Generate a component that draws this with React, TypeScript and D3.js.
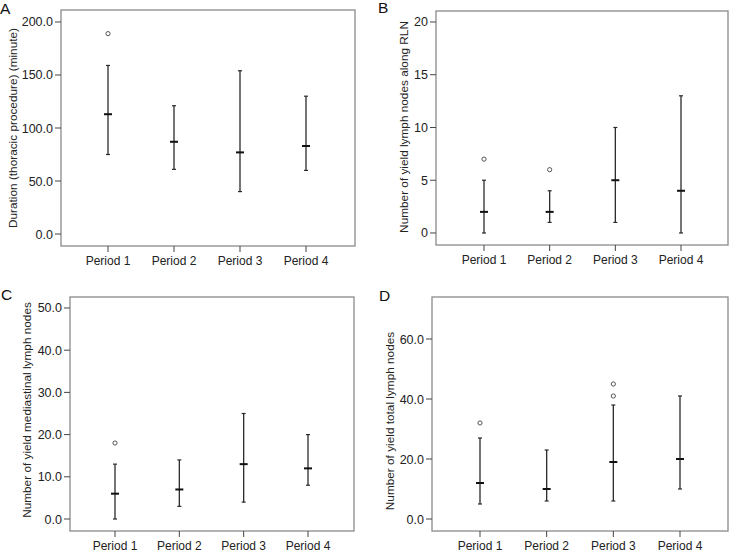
import React from "react";
import * as d3 from "d3";

const periods = ["Period 1", "Period 2", "Period 3", "Period 4"];

// Panel A: duration
const aLow = [75, 61, 40, 60];
const aMed = [113, 87, 77, 83];
const aHigh = [159, 121, 154, 130];
const aOut = [[189], [], [], []];
const aTicks = [0, 50, 100, 150, 200];

// Panel B: RLN nodes
const bLow = [0, 1, 1, 0];
const bMed = [2, 2, 5, 4];
const bHigh = [5, 4, 10, 13];
const bOut = [[7], [6], [], []];
const bTicks = [0, 5, 10, 15, 20];

// Panel C: mediastinal nodes
const cLow = [0, 3, 4, 8];
const cMed = [6, 7, 13, 12];
const cHigh = [13, 14, 25, 20];
const cOut = [[18], [], [], []];
const cTicks = [0, 10, 20, 30, 40, 50];

// Panel D: total nodes
const dLow = [5, 6, 6, 10];
const dMed = [12, 10, 19, 20];
const dHigh = [27, 23, 38, 41];
const dOut = [[32], [], [41, 45], []];
const dTicks = [0, 20, 40, 60];

type PanelProps = {
  letter: string;
  letterX: number;
  letterY: number;
  title: string;
  titleX: number;
  titleY: number;
  x0: number;
  x1: number;
  y0: number;
  y1: number;
  domain: [number, number];
  xFirst: number;
  xLast: number;
  ticks: number[];
  fmt: (v: number) => string;
  low: number[];
  med: number[];
  high: number[];
  out: number[][];
};

const FONT = "'Liberation Sans', Arial, Helvetica, sans-serif";

function Panel(p: PanelProps) {
  const y = d3.scaleLinear().domain(p.domain).range([p.y1, p.y0]);
  const x = d3.scalePoint<string>().domain(periods).range([p.xFirst, p.xLast]);
  const frame = "#8a8a8a";
  const line = "#2a2a2a";
  return (
    <g fontFamily={FONT}>
      <text x={p.letterX} y={p.letterY} fontSize={15.5} fill="#111">{p.letter}</text>
      <text
        transform={`translate(${p.titleX},${p.titleY}) rotate(-90)`}
        textAnchor="middle"
        fontSize={11.8}
        fill="#222"
      >
        {p.title}
      </text>
      <rect x={p.x0} y={p.y0} width={p.x1 - p.x0} height={p.y1 - p.y0} fill="none" stroke={frame} strokeWidth={1.3} />
      {p.ticks.map((t) => (
        <g key={t}>
          <line x1={p.x0 - 6} x2={p.x0} y1={y(t)} y2={y(t)} stroke="#444" strokeWidth={1} />
          <text x={p.x0 - 8} y={y(t)} dy="0.36em" textAnchor="end" fontSize={12.5} fill="#222">
            {p.fmt(t)}
          </text>
        </g>
      ))}
      {periods.map((c, i) => {
        const cx = x(c) as number;
        return (
          <g key={c}>
            <line x1={cx} x2={cx} y1={p.y1} y2={p.y1 + 6} stroke="#444" strokeWidth={1} />
            <text x={cx} y={p.y1 + 18.5} textAnchor="middle" fontSize={12} fill="#222">{c}</text>
            <line x1={cx} x2={cx} y1={y(p.low[i])} y2={y(p.high[i])} stroke={line} strokeWidth={1.3} />
            <line x1={cx - 2} x2={cx + 2} y1={y(p.low[i])} y2={y(p.low[i])} stroke={line} strokeWidth={1.2} />
            <line x1={cx - 2} x2={cx + 2} y1={y(p.high[i])} y2={y(p.high[i])} stroke={line} strokeWidth={1.2} />
            <line x1={cx - 4} x2={cx + 4} y1={y(p.med[i])} y2={y(p.med[i])} stroke="#111" strokeWidth={2} />
            {p.out[i].map((o, k) => (
              <circle key={k} cx={cx} cy={y(o)} r={2.1} fill="white" stroke="#555" strokeWidth={1} />
            ))}
          </g>
        );
      })}
    </g>
  );
}

export default function App() {
  const f1 = (v: number) => v.toFixed(1);
  const f0 = (v: number) => String(v);
  return (
    <svg width={732} height={553} style={{ position: "absolute", left: 0, top: 0, background: "white" }}>
      <Panel
        letter="A" letterX={0} letterY={14}
        title="Duration (thoracic procedure) (minute)" titleX={17} titleY={128}
        x0={61} x1={355} y0={10} y1={246}
        domain={[-11.3, 211.3]} xFirst={108} xLast={306}
        ticks={aTicks} fmt={f1}
        low={aLow} med={aMed} high={aHigh} out={aOut}
      />
      <Panel
        letter="B" letterX={378} letterY={13}
        title="Number of yield lymph nodes along RLN" titleX={408} titleY={127}
        x0={436} x1={728} y0={11} y1={245}
        domain={[-1.14, 21.04]} xFirst={484} xLast={681}
        ticks={bTicks} fmt={f0}
        low={bLow} med={bMed} high={bHigh} out={bOut}
      />
      <Panel
        letter="C" letterX={1} letterY={300}
        title="Number of yield mediastinal lymph nodes" titleX={31} titleY={410}
        x0={70} x1={354} y0={297} y1={531}
        domain={[-2.84, 52.6]} xFirst={115} xLast={308}
        ticks={cTicks} fmt={f1}
        low={cLow} med={cMed} high={cHigh} out={cOut}
      />
      <Panel
        letter="D" letterX={379} letterY={301}
        title="Number of yield total lymph nodes" titleX={394} titleY={421}
        x0={432} x1={728} y0={297} y1={531}
        domain={[-4, 74]} xFirst={480} xLast={680}
        ticks={dTicks} fmt={f1}
        low={dLow} med={dMed} high={dHigh} out={dOut}
      />
    </svg>
  );
}
